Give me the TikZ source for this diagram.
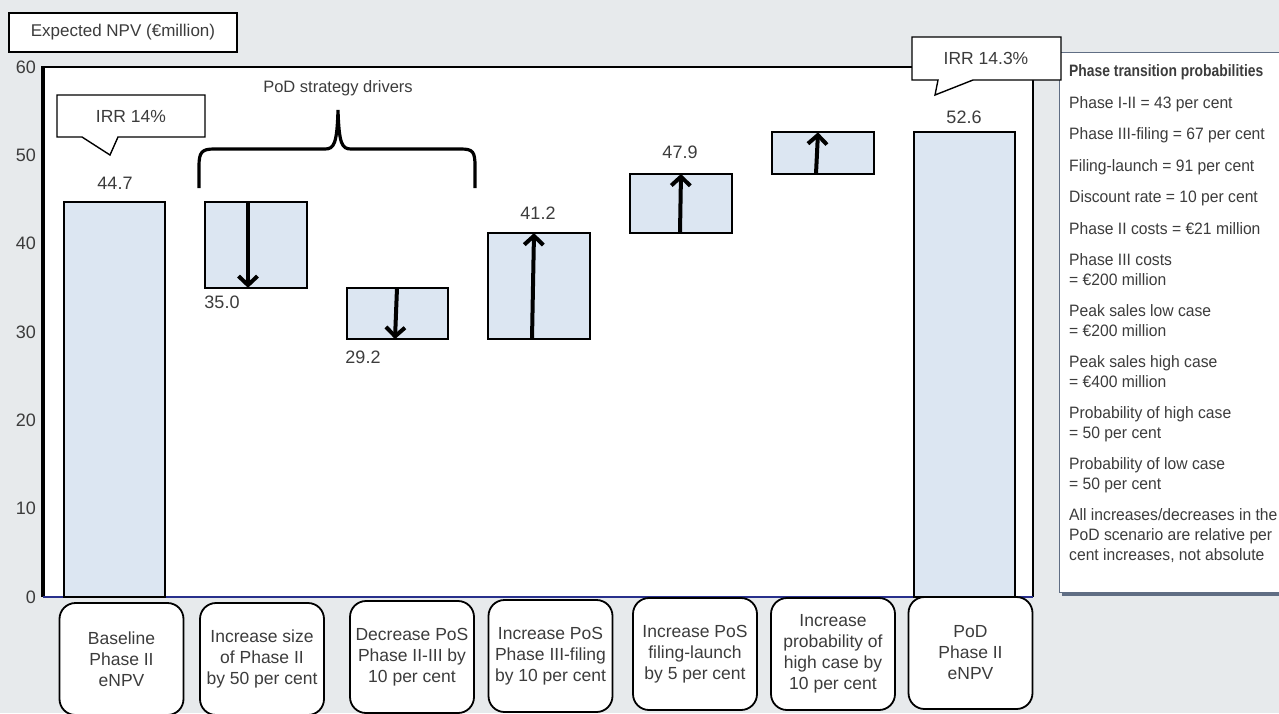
\documentclass[tikz,border=0pt]{standalone}
\usepackage{fontspec}
\setmainfont{Liberation Sans}
\newfontfamily\headfont{Liberation Sans}[FakeStretch=0.84]
\newfontfamily\infofont{Liberation Sans}[FakeStretch=0.95]
\usetikzlibrary{arrows.meta}

\definecolor{bggray}{RGB}{231,234,236}
\definecolor{barblue}{RGB}{220,230,242}
\definecolor{axisnavy}{RGB}{40,48,140}
\definecolor{panelslate}{RGB}{96,110,132}
\definecolor{txtgray}{RGB}{60,60,60}

% value (in million) -> vertical position in the picture
\newcommand{\yat}[1]{597-#1*8.8333}

\tikzset{
    bar/.style={draw=black, line width=1.8pt, fill=barblue},
    steparrow/.style={line width=4pt, -{Straight Barb[length=9pt,width=19pt]}},
    valuelabel/.style={font=\fontsize{18}{20}\selectfont, text=txtgray, inner sep=0pt},
    ticklabel/.style={anchor=east, font=\fontsize{18}{20}\selectfont, text=txtgray, inner sep=0pt},
    calloutline/.style={draw=black, line width=1.4pt, fill=white},
    callouttext/.style={font=\fontsize{17.5}{20}\selectfont, text=txtgray},
    infotext/.style={anchor=base west, font=\fontsize{16.5}{20}\selectfont\infofont, text=txtgray, inner sep=0pt},
    catbox/.style={draw=black, line width=1.8pt, fill=white, rounded corners=16pt,
        minimum width=124pt, minimum height=112pt, align=center, inner sep=0pt,
        font=\fontsize{17.5}{21}\selectfont, text=txtgray}
}

\begin{document}
\begin{tikzpicture}[x=1pt, y=-1pt]
    % --- Background and plot frame ---
    \fill[bggray] (0,0) rectangle (1279,713);
    \useasboundingbox (0,0) rectangle (1279,713);
    \fill[white] (43,67) rectangle (1033,597);
    \draw[line width=2.4pt] (43,67) -- (1033,67) -- (1033,597);
    \draw[line width=3.2pt] (43,597) -- (43,66);
    \draw[axisnavy, line width=2pt] (43,597) -- (1033,597);

    % --- Axis title and tick labels ---
    \node[draw, line width=1.3pt, fill=white, minimum width=228pt, minimum height=39pt,
        font=\fontsize{17}{20}\selectfont, text=txtgray] (ytitle) at (123,32.5) {Expected NPV (€million)};
    \foreach \v in {0,10,...,60}
        \node[ticklabel] (tick\v) at (36,{\yat{\v}}) {\v};

    % --- Baseline and PoD bars ---
    \draw[bar] (64,{\yat{44.7}}) rectangle (165,{\yat{0}});
    \draw[bar] (914,{\yat{52.6}}) rectangle (1015,{\yat{0}});

    % --- Waterfall steps ---
    \draw[bar] (205,{\yat{44.7}}) rectangle (307,{\yat{35.0}});
    \draw[bar] (347,{\yat{35.0}}) rectangle (448,{\yat{29.2}});
    \draw[bar] (488,{\yat{29.2}}) rectangle (590,{\yat{41.2}});
    \draw[bar] (630,{\yat{41.2}}) rectangle (732,{\yat{47.9}});
    \draw[bar] (772,{\yat{47.9}}) rectangle (874,{\yat{52.6}});

    % arrow ends inside the steps
    \coordinate (sizeA) at (248,{\yat{44.7}});
    \coordinate (sizeB) at (248,{\yat{35.0}});
    \coordinate (posA) at (397,{\yat{35.0}});
    \coordinate (posB) at (395,{\yat{29.2}});
    \coordinate (filA) at (532,{\yat{29.2}});
    \coordinate (filB) at (534,{\yat{41.2}});
    \coordinate (launchA) at (680,{\yat{41.2}-1});
    \coordinate (launchB) at (681,{\yat{47.9}});
    \coordinate (highA) at (816,{\yat{47.9}});
    \coordinate (highB) at (818,{\yat{52.6}});
    \draw[steparrow] (sizeA) -- (sizeB);
    \draw[steparrow] (posA) -- (posB);
    \draw[steparrow] (filA) -- (filB);
    \draw[steparrow] (launchA) -- (launchB);
    \draw[steparrow] (highA) -- (highB);

    % --- Value labels ---
    \node[valuelabel] (val447) at (115,183) {44.7};
    \node[valuelabel] (val350) at (222,302) {35.0};
    \node[valuelabel] (val292) at (363,357) {29.2};
    \node[valuelabel] (val412) at (538,213) {41.2};
    \node[valuelabel] (val479) at (680,152) {47.9};
    \node[valuelabel] (val526) at (964,117) {52.6};

    % --- Brace over the strategy drivers ---
    \draw[line width=3.2pt] (199,188) -- (199,166) .. controls (199,152) and (202,149) .. (214,149)
        -- (325,149) .. controls (334,149) and (337,144) .. (338,110)
        .. controls (339,144) and (342,149) .. (351,149) -- (461,149)
        .. controls (473,149) and (475,152) .. (475,166) -- (475,188);
    \node[font=\fontsize{16.5}{20}\selectfont, text=txtgray] (drivers) at (338,88) {PoD strategy drivers};

    % --- IRR callout (baseline) ---
    \draw[calloutline] (57,95) -- (205,95) -- (205,137) -- (118,137) -- (110,155)
        -- (82,137) -- (57,137) -- cycle;
    \node[callouttext] (irrbase) at (131,116) {IRR 14\%};

    % --- Assumptions panel ---
    \fill[panelslate] (1062,55) rectangle (1290,596);
    \draw[panelslate, line width=1pt, fill=white] (1059,52) rectangle (1290,592);
    \node[infotext, font=\fontsize{16.5}{20}\selectfont\headfont\bfseries] (info0) at (1069,76) {Phase transition probabilities};
    \node[infotext] (info1) at (1069,108) {Phase I-II = 43 per cent};
    \node[infotext] (info2) at (1069,139) {Phase III-filing = 67 per cent};
    \node[infotext] (info3) at (1069,171) {Filing-launch = 91 per cent};
    \node[infotext] (info4) at (1069,202) {Discount rate = 10 per cent};
    \node[infotext] (info5) at (1069,234) {Phase II costs = €21 million};
    \node[infotext] (info6a) at (1069,265) {Phase III costs};
    \node[infotext] (info6b) at (1069,285) {= €200 million};
    \node[infotext] (info7a) at (1069,316) {Peak sales low case};
    \node[infotext] (info7b) at (1069,336) {= €200 million};
    \node[infotext] (info8a) at (1069,367) {Peak sales high case};
    \node[infotext] (info8b) at (1069,387) {= €400 million};
    \node[infotext] (info9a) at (1069,418) {Probability of high case};
    \node[infotext] (info9b) at (1069,438) {= 50 per cent};
    \node[infotext] (info10a) at (1069,469) {Probability of low case};
    \node[infotext] (info10b) at (1069,489) {= 50 per cent};
    \node[infotext] (info11a) at (1069,520) {All increases/decreases in the};
    \node[infotext] (info11b) at (1069,540) {PoD scenario are relative per};
    \node[infotext] (info11c) at (1069,560) {cent increases, not absolute};

    % --- IRR callout (PoD) ---
    \draw[calloutline] (912,37) -- (1061,37) -- (1061,80) -- (973,80) -- (935,95)
        -- (938,80) -- (912,80) -- cycle;
    \node[callouttext] (irrpod) at (986,58) {IRR 14.3\%};

    % --- Category boxes ---
    \node[catbox] (cat1) at (121.5,659) {Baseline\\Phase II\\eNPV};
    \node[catbox] (cat2) at (262,659) {Increase size\\of Phase II\\by 50 per cent};
    \node[catbox] (cat3) at (412,657) {Decrease PoS\\Phase II-III by\\10 per cent};
    \node[catbox] (cat4) at (550.5,656) {Increase PoS\\Phase III-filing\\by 10 per cent};
    \node[catbox] (cat5) at (695,654) {Increase PoS\\filing-launch\\by 5 per cent};
    \node[catbox] (cat6) at (833,654) {Increase\\probability of\\high case by\\10 per cent};
    \node[catbox] (cat7) at (970.5,653) {PoD\\Phase II\\eNPV};
\end{tikzpicture}
\end{document}
